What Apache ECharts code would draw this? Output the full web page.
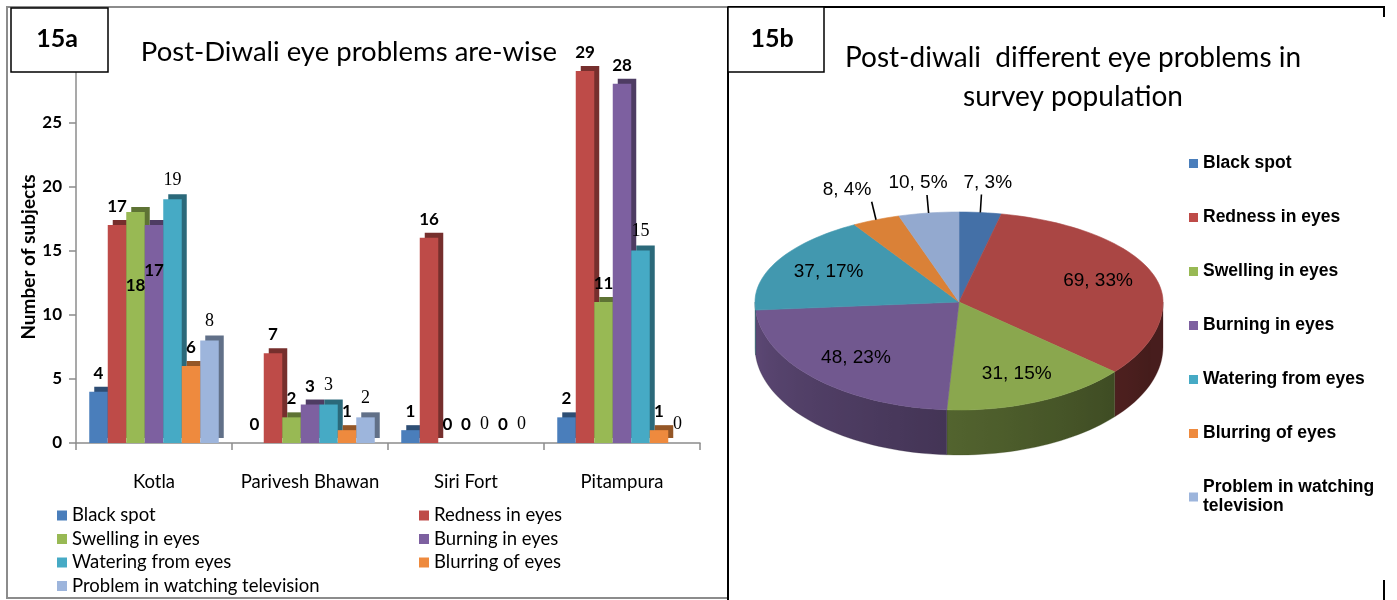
<!DOCTYPE html>
<html><head><meta charset="utf-8">
<script src="https://cdn.jsdelivr.net/npm/echarts@6/dist/echarts.min.js"></script>
<style>html,body{margin:0;padding:0;background:#fff}#c{width:1397px;height:600px}</style>
</head><body><div id="c"></div>
<script>
// ---------- data ----------
const categories = ['Kotla', 'Parivesh Bhawan', 'Siri Fort', 'Pitampura'];
const problems = ['Black spot', 'Redness in eyes', 'Swelling in eyes', 'Burning in eyes', 'Watering from eyes', 'Blurring of eyes', 'Problem in watching television'];
const blackSpot = [4, 0, 1, 2];
const redness = [17, 7, 16, 29];
const swelling = [18, 2, 0, 11];
const burning = [17, 3, 0, 28];
const watering = [19, 3, 0, 15];
const blurring = [6, 1, 0, 1];
const tvProblem = [8, 2, 0, 0];
const yTicks = [0, 5, 10, 15, 20, 25];
const pieValues = [7, 69, 31, 48, 37, 8, 10];
const piePercents = [3, 33, 15, 23, 17, 4, 5];

// ---------- styles ----------
const barColors = ['#4A7EBB', '#BE4B48', '#98B954', '#7D60A0', '#46AAC5', '#EE8A3E', '#9DB5DC'];
const pieColors = ['#4470A7', '#AA4644', '#8AA74E', '#71588F', '#4298AF', '#DA8137', '#93A9CF'];
const CAL = 'Lato, "Open Sans", sans-serif';
const ARIAL = '"Liberation Sans", Arial, sans-serif';
const SERIF = '"Liberation Serif", "DejaVu Serif", serif';

function shade(hex, f) {
  const n = parseInt(hex.slice(1), 16);
  const r = Math.round(((n >> 16) & 255) * f), g = Math.round(((n >> 8) & 255) * f), b = Math.round((n & 255) * f);
  return 'rgb(' + r + ',' + g + ',' + b + ')';
}

const barSeriesData = [blackSpot, redness, swelling, burning, watering, blurring, tvProblem];
const serifLabelSeries = [4, 6];
// label placements that Excel moved inside the bar (series index _ category index -> offset)
const insideLabels = { '2_0': 55, '3_0': 27 };

const barSeries = problems.map((name, i) => ({
  type: 'bar', name: name, xAxisIndex: 0, yAxisIndex: 0,
  barWidth: 18.5, barGap: '0%',
  itemStyle: { color: barColors[i], shadowColor: shade(barColors[i], 0.62), shadowOffsetX: 5, shadowOffsetY: -5, shadowBlur: 0 },
  label: serifLabelSeries.includes(i)
    ? { show: true, position: 'top', distance: 10, color: '#000', fontFamily: SERIF, fontSize: 18 }
    : { show: true, position: 'top', distance: 10, color: '#000', fontFamily: CAL, fontWeight: 'bold', fontSize: 17 },
  data: barSeriesData[i].map((v, j) => {
    const key = i + '_' + j;
    if (insideLabels[key] !== undefined) {
      return { value: v, label: { position: 'insideTop', offset: [0, insideLabels[key]] } };
    }
    return v;
  })
}));

// ---------- 3D pie (custom series) ----------
const PIE = { cx: 959, cy: 302, rx: 204, ryBack: 90, ryFront: 108, depth: 45 };
function piePt(theta, k, dy) {
  const r = theta * Math.PI / 180, c = Math.cos(r);
  const ry = c > 0 ? PIE.ryBack : PIE.ryFront;
  return [PIE.cx + PIE.rx * k * Math.sin(r), PIE.cy - ry * k * c + (dy || 0)];
}
function sideLight(theta) {
  if (theta < 110) return 0.42;
  return Math.min(0.85, 0.4 + 0.43 * (theta - 110) / 160);
}
const pieTotal = pieValues.reduce((a, b) => a + b, 0);

const pieSeries = {
  type: 'custom', name: 'pie3d', coordinateSystem: 'none', silent: true,
  data: pieValues.map((v, i) => ({ name: problems[i], value: [i, v] })),
  renderItem: function (params, api) {
    const i = params.dataIndex;
    const v = api.value(1);
    let start = 0;
    for (let k = 0; k < i; k++) start += pieValues[k];
    const a0 = start / pieTotal * 360, a1 = (start + v) / pieTotal * 360;
    const children = [];
    // side face
    const s0 = Math.max(a0, 90), s1 = Math.min(a1, 270);
    if (s1 > s0) {
      const n = Math.max(2, Math.ceil((s1 - s0) / 2));
      const top = [], bot = [], samples = [];
      for (let k = 0; k <= n; k++) {
        const th = s0 + (s1 - s0) * k / n;
        top.push(piePt(th, 1));
        bot.push(piePt(th, 1, PIE.depth));
        samples.push(th);
      }
      const xs = top.map(p => p[0]);
      const xmin = Math.min.apply(null, xs), xmax = Math.max.apply(null, xs);
      const stops = samples.map((th, k) => ({
        offset: xmax > xmin ? (xs[k] - xmin) / (xmax - xmin) : 0,
        color: shade(pieColors[i], sideLight(th))
      })).sort((a, b) => a.offset - b.offset);
      children.push({
        type: 'polygon', shape: { points: top.concat(bot.reverse()) },
        style: { fill: new echarts.graphic.LinearGradient(0, 0, 1, 0, stops), stroke: shade(pieColors[i], 0.45), lineWidth: 0.3 }
      });
    }
    // top face
    const n2 = Math.max(2, Math.ceil((a1 - a0) / 2));
    const pts = [[PIE.cx, PIE.cy]];
    for (let k = 0; k <= n2; k++) pts.push(piePt(a0 + (a1 - a0) * k / n2, 1));
    children.push({ type: 'polygon', shape: { points: pts }, style: { fill: pieColors[i], stroke: pieColors[i], lineWidth: 0.6 } });
    // label
    const mid = (a0 + a1) / 2;
    const txt = v + ', ' + piePercents[i] + '%';
    if (v / pieTotal > 0.06) {
      const p = piePt(mid, 0.72);
      children.push({
        type: 'text', z2: 10,
        style: { text: txt, x: p[0], y: p[1], fill: '#000', fontSize: 19, fontFamily: ARIAL,
          align: 'center', verticalAlign: 'middle', textAlign: 'center', textVerticalAlign: 'middle' }
      });
    } else {
      const e = piePt(mid, 1);
      const lp = piePt(mid, 1.35);
      const lx = lp[0];
      const endX = e[0] + (lx - e[0]) * 0.15, endY = e[1] - 18;
      children.push({ type: 'line', shape: { x1: e[0], y1: e[1], x2: endX, y2: endY }, style: { stroke: '#000', lineWidth: 1.6 } });
      children.push({
        type: 'text', z2: 10,
        style: { text: txt, x: lx, y: endY - 12, fill: '#000', fontSize: 19, fontFamily: ARIAL,
          align: 'center', verticalAlign: 'middle', textAlign: 'center', textVerticalAlign: 'middle' }
      });
    }
    return { type: 'group', children: children };
  }
};

// ---------- chart ----------
const chart = echarts.init(document.getElementById('c'), null, { renderer: 'canvas' });
const noShadow = { shadowColor: 'rgba(0,0,0,0)', shadowBlur: 0, shadowOffsetX: 0, shadowOffsetY: 0 };

chart.setOption({
  animation: false,
  backgroundColor: '#fff',
  title: [
    { text: 'Post-Diwali eye problems are-wise', left: 349, top: 36, textAlign: 'center', padding: 0,
      textStyle: { fontFamily: CAL, fontSize: 27.5, fontWeight: 'normal', color: '#000', lineHeight: 32 } },
    { text: 'Post-diwali  different eye problems in\nsurvey population', left: 1073, top: 38, textAlign: 'center', padding: 0,
      textStyle: { fontFamily: CAL, fontSize: 28, fontWeight: 'normal', color: '#000', lineHeight: 39 } }
  ],
  legend: [
    { data: [problems[0], problems[2], problems[4], problems[6]], orient: 'vertical', left: 57, top: 505,
      icon: 'rect', itemWidth: 10, itemHeight: 10, itemGap: 2.5, selectedMode: false, padding: 0,
      itemStyle: noShadow,
      textStyle: { fontFamily: CAL, fontSize: 18.5, color: '#000', lineHeight: 21 } },
    { data: [problems[1], problems[3], problems[5]], orient: 'vertical', left: 419, top: 505,
      icon: 'rect', itemWidth: 10, itemHeight: 10, itemGap: 2.5, selectedMode: false, padding: 0,
      itemStyle: noShadow,
      textStyle: { fontFamily: CAL, fontSize: 18.5, color: '#000', lineHeight: 21 } },
    { data: problems.slice(), orient: 'vertical', left: 1189, top: 154,
      icon: 'rect', itemWidth: 9, itemHeight: 9, itemGap: 35, selectedMode: false, padding: 0,
      itemStyle: noShadow,
      formatter: function (n) { return n === problems[6] ? 'Problem in watching\ntelevision' : n; },
      textStyle: { fontFamily: ARIAL, fontSize: 17.5, fontWeight: 'bold', color: '#000', lineHeight: 19 } }
  ],
  grid: [{ left: 76, width: 624, top: 71, bottom: 157, containLabel: false }],
  xAxis: [{
    type: 'category', data: categories, gridIndex: 0,
    axisLine: { lineStyle: { color: '#8c8c8c', width: 1.5 } },
    axisTick: { show: true, length: 7, lineStyle: { color: '#8c8c8c', width: 1.5 } },
    axisLabel: { interval: 0, margin: 30, fontFamily: CAL, fontSize: 18.5, color: '#000' }
  }],
  yAxis: [{
    type: 'value', gridIndex: 0, min: 0, max: 29, interval: 5,
    name: 'Number of subjects', nameLocation: 'middle', nameGap: 38, nameRotate: 90,
    nameTextStyle: { fontFamily: CAL, fontSize: 19, fontWeight: 'bold', color: '#000' },
    axisLine: { show: true, lineStyle: { color: '#8c8c8c', width: 1.5 } },
    axisTick: { show: true, length: 7, lineStyle: { color: '#8c8c8c', width: 1.5 } },
    splitLine: { show: false },
    axisLabel: { margin: 14, fontFamily: CAL, fontSize: 17, fontWeight: 'bold', color: '#000',
      formatter: function (v) { return yTicks.includes(v) ? String(v) : ''; } }
  }],
  graphic: [
    { type: 'rect', shape: { x: 7, y: 7, width: 721, height: 591 }, style: { fill: 'none', stroke: '#8c8c8c', lineWidth: 2 }, z: 0, silent: true },
    { type: 'line', shape: { x1: 728, y1: 7, x2: 728, y2: 600 }, style: { stroke: '#000', lineWidth: 2 }, z: 1, silent: true },
    { type: 'line', shape: { x1: 728, y1: 7, x2: 1385, y2: 7 }, style: { stroke: '#000', lineWidth: 2 }, z: 1, silent: true },
    { type: 'line', shape: { x1: 1384, y1: 7, x2: 1384, y2: 17 }, style: { stroke: '#000', lineWidth: 2 }, z: 1, silent: true },
    { type: 'line', shape: { x1: 1384, y1: 580, x2: 1384, y2: 600 }, style: { stroke: '#000', lineWidth: 2 }, z: 1, silent: true },
    { type: 'rect', shape: { x: 11, y: 8, width: 97, height: 64 }, style: { fill: '#fff', stroke: '#000', lineWidth: 1.5 }, z: 5, silent: true },
    { type: 'text', z: 6, silent: true, style: { text: '15a', x: 57, y: 39, fill: '#000', font: 'bold 25px Lato, sans-serif',
      align: 'center', verticalAlign: 'middle', textAlign: 'center', textVerticalAlign: 'middle' } },
    { type: 'rect', shape: { x: 728, y: 7, width: 96, height: 65 }, style: { fill: '#fff', stroke: '#000', lineWidth: 1.5 }, z: 5, silent: true },
    { type: 'text', z: 6, silent: true, style: { text: '15b', x: 772, y: 39, fill: '#000', font: 'bold 25px Lato, sans-serif',
      align: 'center', verticalAlign: 'middle', textAlign: 'center', textVerticalAlign: 'middle' } }
  ],
  series: barSeries.concat([pieSeries])
});
</script>
</body></html>
